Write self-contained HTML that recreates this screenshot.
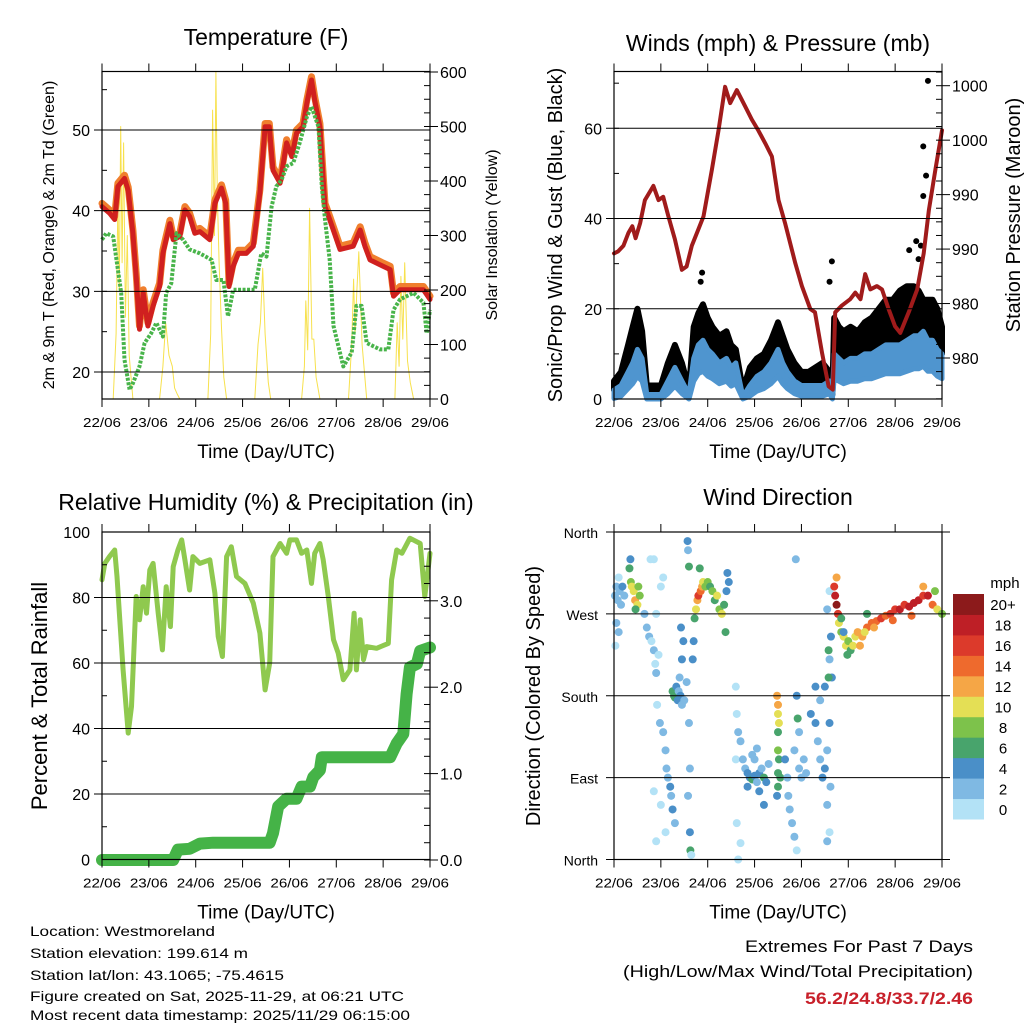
<!DOCTYPE html>
<html><head><meta charset="utf-8"><style>
html,body{margin:0;padding:0;background:#fff}
svg{display:block;font-family:"Liberation Sans",sans-serif}
</style></head><body>
<svg id="c" width="1024" height="1024" viewBox="0 0 1024 1024">
<g id="layer-bg"></g>
<g id="layer-data"></g>
<g id="layer-axes"></g>
<g font-size="14" fill="#000">
<text x="30" y="936" textLength="185" lengthAdjust="spacingAndGlyphs">Location: Westmoreland</text>
<text x="30" y="958" textLength="218" lengthAdjust="spacingAndGlyphs">Station elevation: 199.614 m</text>
<text x="30" y="980" textLength="254" lengthAdjust="spacingAndGlyphs">Station lat/lon: 43.1065; -75.4615</text>
<text x="30" y="1001" textLength="374" lengthAdjust="spacingAndGlyphs">Figure created on Sat, 2025-11-29, at 06:21 UTC</text>
<text x="30" y="1020" textLength="380" lengthAdjust="spacingAndGlyphs">Most recent data timestamp: 2025/11/29 06:15:00</text>
</g>
<g font-size="17" text-anchor="end">
<text x="973" y="952" textLength="228" lengthAdjust="spacingAndGlyphs">Extremes For Past 7 Days</text>
<text x="973" y="977" textLength="350" lengthAdjust="spacingAndGlyphs">(High/Low/Max Wind/Total Precipitation)</text>
<text x="973" y="1004" textLength="168" lengthAdjust="spacingAndGlyphs" font-weight="bold" fill="#c8202a">56.2/24.8/33.7/2.46</text>
</g>
</svg>
<script>
// ---------- data ----------
const dayLabels=["22/06","23/06","24/06","25/06","26/06","27/06","28/06","29/06"];
const tempT=[0,.16,.27,.34,.48,.56,.66,.73,.80,.88,.98,1.09,1.23,1.30,1.45,1.52,1.66,1.77,1.87,1.98,2.09,2.30,2.41,2.55,2.64,2.71,2.80,2.91,3.08,3.23,3.37,3.48,3.57,3.65,3.80,3.94,4.05,4.15,4.29,4.37,4.47,4.54,4.65,4.76,4.86,5.08,5.36,5.51,5.61,5.72,6.00,6.15,6.22,6.36,6.65,6.86,7.0];
const tempF=[40.5,39.7,38.9,43,44,42.5,37.2,31.8,25.3,29.8,25.7,28.2,30.6,34.7,38.4,36.4,36.8,40.1,39.3,37.2,37.4,36.4,40.9,42.8,40.9,30.6,33.1,34.7,34.7,35.6,42.2,50.4,50.4,45,43.4,48.4,46.7,49.6,50.4,53.3,56.2,53.7,50.4,40.5,38.9,35.2,35.6,37.6,35.6,33.9,33.1,32.7,29.4,30.2,30.2,30.2,29];
const dewT=[0,.09,.24,.31,.41,.48,.59,.66,.80,.91,1.05,1.16,1.30,1.37,1.48,1.59,1.73,1.87,2.09,2.34,2.44,2.59,2.69,2.80,3.08,3.26,3.40,3.51,3.62,3.72,3.83,3.94,4.08,4.22,4.37,4.47,4.62,4.69,4.76,4.86,4.94,5.15,5.33,5.43,5.54,5.65,5.93,6.11,6.22,6.36,6.65,6.86,6.93,7];
const dewF=[36.4,37.2,36.8,33.9,29.8,21.5,17.8,18.6,20.7,23.6,24.8,26.1,24.4,29.8,31,37.2,36.4,35.2,34.7,33.9,31.4,31.4,26.9,30.2,30.2,30.2,34.7,34.3,40.5,43,43.8,45.5,45.9,48.4,51.6,52.9,50.4,43,38.9,33.9,25.7,20.7,22.4,28.2,28.2,23.6,22.8,22.8,27.7,29,29.8,28.6,24.8,27.7];
const solarT=[0.2,0.24,0.30,0.34,0.37,0.40,0.43,0.46,0.50,0.54,0.58,0.66,1.2,1.23,1.30,1.36,1.43,1.50,1.55,1.60,1.66,2.2,2.26,2.32,2.36,2.40,2.43,2.46,2.50,2.55,2.60,2.66,3.2,3.26,3.33,3.38,3.43,3.48,3.55,3.6,4.2,4.26,4.32,4.35,4.39,4.43,4.48,4.52,4.57,4.65,5.2,5.26,5.33,5.37,5.40,5.44,5.48,5.55,5.65,6.2,6.25,6.30,6.34,6.38,6.42,6.46,6.52,6.58,6.65];
const solarW=[0,0,120,365,200,500,250,470,150,300,80,0,0,0,60,140,80,60,20,10,0,0,0,120,530,300,600,377,250,130,40,0,0,0,100,140,240,120,30,0,0,0,60,180,90,350,110,110,40,0,0,0,100,220,120,200,270,100,0,0,0,140,60,225,110,250,70,30,0];
const presT=[0,.09,.2,.31,.39,.46,.56,.66,.84,.95,1.05,1.16,1.30,1.45,1.55,1.66,1.80,1.91,2.09,2.23,2.37,2.48,2.62,2.80,2.94,3.08,3.23,3.37,3.51,3.65,3.87,4.01,4.19,4.29,4.44,4.58,4.67,4.72,4.86,5.04,5.15,5.26,5.36,5.47,5.61,5.72,5.86,6.0,6.11,6.29,6.47,6.61,6.72,6.86,6.93,7];
const presMb=[989.6,989.8,990.3,991.5,992.1,991,992.4,994.5,995.8,994.5,994.8,993,990.9,988.1,988.4,990.3,991.8,993,997.3,1000.9,1004.9,1003.4,1004.6,1003.1,1001.9,1000.9,999.7,998.5,994.5,992.4,988.7,986.6,984.5,984.2,980.5,977.4,977.1,984.2,984.8,985.4,986,985.4,987.7,986.3,986.6,986.3,984.5,982.9,982.3,984.2,986.3,989.6,993.6,997.3,999.1,1000.9];
const windT=[0,.15,.3,.4,.5,.6,.7,.85,1.0,1.15,1.3,1.45,1.6,1.7,1.8,1.9,2.0,2.1,2.25,2.4,2.5,2.6,2.75,2.9,3.05,3.2,3.35,3.5,3.6,3.7,3.85,4.0,4.15,4.3,4.45,4.6,4.66,4.7,4.8,4.9,5.05,5.2,5.35,5.5,5.65,5.8,5.95,6.1,6.25,6.4,6.5,6.6,6.7,6.8,6.9,7.0];
const windMph=[2,3,6,8,11,9,1,1,1,4,7,4,1,9,12,13,11,10,8,9,7,8,0.5,3,5,6,8,11,8,6,4,3,3,3,3,4,1,10,9,8,9,9,10,10,11,12,12,12,13,14,14,15,13,13,11,10];
const gustMph=[4,6,12,16,20,15,3,3,3,8,12,8,2,16,19,21,18,16,14,15,12,11,2,7,9,10,13,17,14,11,8,6,6,7,8,6,2,18,16,15,16,15,17,18,20,22,22,24,25,25,24,22,22,22,20,16];
const gustOutT=[6.70,6.60,6.66,6.60,4.65,4.60,6.45,6.55,1.88,1.85,6.3,6.5];
const gustOutMph=[70.5,56,49.5,45,30.5,26,35,34,28,26,33,31];
const rhT=[0,.06,.16,.27,.32,.38,.45,.56,.63,.73,.80,.88,.95,1.02,1.09,1.20,1.29,1.37,1.46,1.52,1.62,1.70,1.77,1.87,1.94,2.09,2.30,2.41,2.48,2.57,2.66,2.76,2.87,3.05,3.23,3.37,3.48,3.58,3.65,3.80,3.94,4.01,4.15,4.26,4.37,4.47,4.54,4.65,4.72,4.83,4.94,5.04,5.15,5.29,5.38,5.43,5.51,5.58,5.65,5.86,6.11,6.18,6.29,6.40,6.57,6.79,6.89,7];
const rhPct=[85.4,90.4,92.5,94.5,86.4,73.2,57.9,38.6,46.7,80.3,73.2,83.3,75.2,88.4,90.4,75.2,64,83.3,71.1,89.4,94.5,97.6,91.5,82.3,92.5,90.4,91.5,81.3,68.1,62,92.5,95.5,86.4,84.3,78.3,69.1,51.8,60,92.5,96.5,93.5,97.6,97.6,93.5,94.5,84.3,93.5,96.5,91.5,80.3,67.1,63,54.9,57.9,75.2,57.9,73.2,61,65,64.5,66,85.4,94.5,93.5,98.1,96.5,80.3,93.5];
const rainT=[0,1.52,1.62,1.87,2.09,2.37,3.58,3.65,3.76,3.94,4.15,4.26,4.44,4.51,4.65,4.69,6.15,6.29,6.43,6.50,6.57,6.72,6.79,7];
const rainIn=[0,0,.12,.13,.19,.2,.2,.31,.62,.71,.71,.85,.85,.96,1.04,1.19,1.19,1.35,1.46,1.92,2.23,2.27,2.42,2.46];
const dirT=[0.02,0.05,0.08,0.1,0.12,0.15,0.18,0.22,0.05,0.1,0.03,
0.33,0.36,0.38,0.42,0.45,0.5,0.55,0.35,0.46,0.52,
0.65,0.7,0.75,0.8,0.85,0.88,0.9,0.95,0.85,1.0,1.05,0.78,0.9,
1.25,1.28,1.3,1.33,1.36,1.38,1.42,1.4,1.45,1.5,1.45,1.48,1.43,
0.92,0.98,1.05,1.1,1.12,1.15,1.2,1.22,1.25,1.3,1.1,1.0,0.85,0.9,
1.55,1.6,1.62,1.58,1.62,1.63,1.65,1.57,1.58,1.6,
1.72,1.75,1.78,1.8,1.85,1.88,1.9,1.95,2.0,2.05,2.1,2.15,2.2,2.25,2.3,2.35,2.4,2.42,2.45,2.38,1.83,1.7,1.68,
2.62,2.65,2.7,2.6,2.62,2.7,2.65,2.6,
2.8,2.85,2.9,2.95,3.0,3.05,3.1,3.15,3.2,3.25,2.75,3.0,3.1,3.2,3.3,2.85,2.95,3.05,
3.5,3.5,3.52,3.5,3.48,3.5,3.52,3.5,3.5,3.55,3.48,
3.65,3.7,3.72,3.75,3.8,3.85,3.9,3.85,3.95,4.0,3.9,3.88,3.95,4.1,4.05,3.92,
4.2,4.3,4.35,4.4,4.45,4.5,4.55,4.6,4.62,4.55,4.6,4.55,4.65,4.6,4.58,4.63,4.55,4.6,4.5,4.4,4.3,4.58,
4.7,4.72,4.75,4.78,4.8,4.85,4.9,4.95,5.0,5.05,5.1,4.85,4.9,4.98,5.15,4.75,
5.2,5.3,5.4,5.5,5.6,5.7,5.8,5.9,6.0,6.1,6.2,6.3,6.4,6.5,6.6,6.7,6.8,6.9,7.0,5.35,5.55,5.25,6.6,6.85,5.4,5.95,6.35];
const dirDeg=[290,300,285,310,295,280,300,290,260,250,235,
320,305,300,295,285,280,290,330,275,300,
270,255,245,240,230,215,205,225,330,300,310,330,270,
185,180,178,190,175,185,180,200,170,175,220,240,255,
170,150,140,120,100,90,80,70,55,40,30,60,75,20,
195,150,100,70,30,10,5,350,340,322,
265,275,285,290,295,300,305,300,305,300,295,285,290,275,270,280,295,315,305,250,320,240,220,
160,140,130,110,40,18,0,190,
100,95,90,88,92,85,95,100,90,85,110,110,75,60,105,80,115,122,
170,160,150,140,180,120,110,95,80,90,70,
110,90,70,55,40,25,10,120,100,90,180,330,140,95,110,155,
160,150,130,110,90,100,120,150,80,60,30,20,200,220,230,245,275,295,190,175,190,200,
300,290,280,270,260,250,245,235,240,230,235,265,250,225,245,310,
250,245,255,260,262,265,268,270,275,275,280,278,282,285,290,290,280,275,270,250,255,235,300,295,270,263,268];
const dirMph=[2,3,2,1,3,2,4,2,2,2,1,
7,9,10,10,12,11,8,4,7,9,
2,2,2,1,2,1,3,1,0,0,1,0,1,
7,6,6,4,4,3,4,3,2,3,4,4,5,
1,2,2,3,3,2,4,3,4,2,1,1,0,0,
2,2,2,2,4,7,0,4,3,6,
7,10,13,16,14,12,10,8,8,7,8,7,10,9,11,6,5,4,4,6,7,5,4,
1,2,2,1,1,0,1,0,
3,4,4,6,5,3,4,3,6,5,2,3,4,4,2,5,3,3,
12,10,10,7,12,8,7,6,6,7,4,
5,3,3,2,2,2,1,2,3,2,4,2,2,2,3,7,
4,4,3,3,4,4,3,4,2,2,1,2,4,3,6,5,2,1,5,2,5,6,
16,18,20,16,10,8,10,10,8,7,10,6,4,6,10,12,
13,12,14,14,15,16,15,17,16,18,17,18,19,18,17,18,14,11,9,10,12,12,13,9,6,14,15];
const speedLabels=["0","2","4","6","8","10","12","14","16","18","20+"];
const speedColors=["#b3e2f6","#7fb9e3","#4a8fc8","#48a46c","#7dc24b","#e4df55","#f5a646","#ee6a2d","#dc3a2b","#be1f26","#8c1a1b"];

// ---------- helpers ----------
const NS="http://www.w3.org/2000/svg";
const gData=document.getElementById('layer-data');
const gAx=document.getElementById('layer-axes');
function mk(tag,attrs,parent){const e=document.createElementNS(NS,tag);for(const k in attrs)e.setAttribute(k,attrs[k]);(parent||gAx).appendChild(e);return e;}
const W=328, H=327.5;
function xs(L){return t=>L+t*(W/7);}
function lin(v0,p0,v1,p1){return v=>p0+(v-v0)*(p1-p0)/(v1-v0);}
function poly(T,V,sx,sy,attrs,name){
  const pts=T.map((t,i)=>sx(t).toFixed(1)+","+sy(V[i]).toFixed(1)).join(" ");
  const e=mk('polyline',Object.assign({points:pts,fill:'none','stroke-linejoin':'round','stroke-linecap':'round'},attrs),gData);
  
  
  return e;
}
function area(T,Lo,Hi,sx,sy,attrs,name){
  const top=T.map((t,i)=>sx(t).toFixed(1)+","+sy(Hi[i]).toFixed(1));
  const bot=T.map((t,i)=>sx(t).toFixed(1)+","+sy(Lo[i]).toFixed(1)).reverse();
  const e=mk('polygon',Object.assign({points:top.concat(bot).join(" "),'stroke-linejoin':'round'},attrs),gData);
  
  
  return e;
}
function txt(x,y,s,attrs,name,parent){
  const e=mk('text',Object.assign({x:x,y:y},attrs),parent||gAx);e.textContent=s;
  
  
  return e;
}
function panel(L,T,name,opts){
  const R=L+W,B=T+H;
  opts.grid.forEach(y=>{const g=mk('line',{x1:L-8,x2:opts.gridExt?R+8:R,y1:y,y2:y,stroke:'#000','stroke-width':1});
    
    });
  const b=mk('rect',{x:L,y:T,width:W,height:H,fill:'none',stroke:'#000','stroke-width':1.2});
  
  
  const sx=xs(L);
  for(let d=0;d<=7;d++){const x=sx(d);
    const t1=mk('line',{x1:x,x2:x,y1:T-8,y2:T,stroke:'#000','stroke-width':1});
    
    
    const t2=mk('line',{x1:x,x2:x,y1:B,y2:B+8,stroke:'#000','stroke-width':1});
    
    
    txt(x,B+28,dayLabels[d],{'font-size':13,'text-anchor':'middle',textLength:38,lengthAdjust:'spacingAndGlyphs'},name+'-x-tick-label');
  }
  txt(L+W/2,B+59,"Time (Day/UTC)",{'font-size':19,'text-anchor':'middle'},name+'-x-axis-title');
  if(opts.rminor){opts.rminor.forEach(y=>{const m=mk('line',{x1:R-6,x2:R,y1:y,y2:y,stroke:'#000','stroke-width':1});
    
    });}
  if(opts.lminor){opts.lminor.forEach(y=>{const m=mk('line',{x1:L,x2:L+5,y1:y,y2:y,stroke:'#000','stroke-width':1});
    
    });}
  return sx;
}
function range(a,b,s){const r=[];for(let v=a;v<=b+1e-9;v+=s)r.push(v);return r;}

// ---------- Temperature panel ----------
{
  const L=102,T=71.5;
  const sy=lin(20,372,50,130), ss=lin(0,399,600,72);
  const sx=panel(L,T,'temp-panel',{grid:[20,30,40,50].map(sy),rminor:range(0,600,25).map(ss),lminor:range(20,55,5).map(sy)});
  [20,30,40,50].forEach(v=>txt(L-12,sy(v)+6,String(v),{'font-size':16,'text-anchor':'end'},'temp-y-tick-label'));
  [0,100,200,300,400,500,600].forEach(v=>{txt(L+W+10,ss(v)+6,String(v),{'font-size':16},'solar-y-tick-label');
    const tk=mk('line',{x1:L+W,x2:L+W+8,y1:ss(v),y2:ss(v),stroke:'#000'});
    
    });
  poly(solarT,solarW,sx,ss,{stroke:'#f7e14d','stroke-width':1},'solar-insolation-line');
  poly(tempT,tempF.map(v=>v+0.4),sx,sy,{stroke:'#f07f2e','stroke-width':7},'temp-9m-line');
  poly(tempT,tempF,sx,sy,{stroke:'#d0201f','stroke-width':5},'temp-2m-line');
  poly(dewT,dewF,sx,sy,{stroke:'#48b44a','stroke-width':4,'stroke-dasharray':'3,1.5','stroke-linecap':'butt'},'dewpoint-line');
  txt(266,45,"Temperature (F)",{'font-size':23,'text-anchor':'middle'},'temp-title');
  txt(0,0,"2m & 9m T (Red, Orange) & 2m Td (Green)",{'font-size':16,'text-anchor':'middle',transform:'translate(54,235) rotate(-90)'},'temp-y-axis-title');
  txt(0,0,"Solar Insolation (Yellow)",{'font-size':16,'text-anchor':'middle',transform:'translate(497,235) rotate(-90)'},'solar-y-axis-title');
}
// ---------- Winds panel ----------
{
  const L=614,T=71.5;
  const sy=lin(0,399,60,128.3), sp=lin(980,358,1005,85.7);
  const sx=panel(L,T,'wind-panel',{grid:[20,40,60].map(sy),rminor:range(975,1007,1.25).map(sp).filter(y=>y>T&&y<399),lminor:range(0,70,10).map(sy)});
  [0,20,40,60].forEach(v=>txt(L-12,sy(v)+6,String(v),{'font-size':16,'text-anchor':'end'},'wind-y-tick-label'));
  const plab=["980","980","990","990","1000","1000"];
  [980,985,990,995,1000,1005].forEach((v,i)=>{txt(L+W+10,sp(v)+6,plab[i],{'font-size':16},'pressure-y-tick-label');
    const tk=mk('line',{x1:L+W,x2:L+W+8,y1:sp(v),y2:sp(v),stroke:'#000'});
    
    });
  area(windT,windMph,gustMph,sx,sy,{fill:'#000',stroke:'#000','stroke-width':6},'gust-cloud');
  area(windT,windMph.map(v=>Math.max(0,v*0.55-1)),windMph,sx,sy,{fill:'#4f95cf',stroke:'#4f95cf','stroke-width':5},'wind-speed-band');
  gustOutT.forEach((t,i)=>{const c=mk('circle',{cx:sx(t),cy:sy(gustOutMph[i]),r:3,fill:'#000'},gData);
    
    });
  poly(presT,presMb,sx,sp,{stroke:'#a01b1b','stroke-width':4},'pressure-line');
  txt(778,51,"Winds (mph) & Pressure (mb)",{'font-size':23,'text-anchor':'middle'},'wind-title');
  txt(0,0,"Sonic/Prop Wind & Gust (Blue, Black)",{'font-size':20,'text-anchor':'middle',transform:'translate(562,235) rotate(-90)'},'wind-y-axis-title');
  txt(0,0,"Station Pressure (Maroon)",{'font-size':20,'text-anchor':'middle',transform:'translate(1020,215) rotate(-90)'},'pressure-y-axis-title');
}
// ---------- RH & Precip panel ----------
{
  const L=102,T=532;
  const sy=lin(0,859.5,100,532), sr=lin(0,860,3,600.8);
  const sx=panel(L,T,'rh-panel',{grid:[20,40,60,80].map(sy),rminor:range(0,3.7,0.2).map(sr),lminor:range(10,90,10).map(sy)});
  [0,20,40,60,80,100].forEach(v=>txt(L-12,sy(v)+6,String(v),{'font-size':16,'text-anchor':'end'},'rh-y-tick-label'));
  ["0.0","1.0","2.0","3.0"].forEach((s,i)=>{txt(L+W+10,sr(i)+6,s,{'font-size':16},'rain-y-tick-label');
    const tk=mk('line',{x1:L+W,x2:L+W+8,y1:sr(i),y2:sr(i),stroke:'#000'});
    
    });
  poly(rhT,rhPct,sx,sy,{stroke:'#8fc94f','stroke-width':5},'rh-line');
  poly(rainT,rainIn,sx,sr,{stroke:'#45b347','stroke-width':12},'rain-line');
  txt(266,510,"Relative Humidity (%) & Precipitation (in)",{'font-size':23,'text-anchor':'middle'},'rh-title');
  txt(0,0,"Percent & Total Rainfall",{'font-size':22,'text-anchor':'middle',transform:'translate(47,696) rotate(-90)'},'rh-y-axis-title');
}
// ---------- Wind Direction panel ----------
{
  const L=614,T=532;
  const sy=lin(360,532,0,859.5);
  const sx=panel(L,T,'dir-panel',{grid:[360,270,180,90,0].map(sy),gridExt:true});
  ["North","West","South","East","North"].forEach((s,i)=>txt(L-16,sy(360-90*i)+6,s,{'font-size':14,'text-anchor':'end'},'dir-y-tick-label'));
  dirT.forEach((t,i)=>{const b=Math.min(10,Math.floor(dirMph[i]/2));
    const c=mk('circle',{cx:sx(t),cy:sy(dirDeg[i]),r:4,fill:speedColors[b]},gData);
    
    });
  txt(778,505,"Wind Direction",{'font-size':23,'text-anchor':'middle'},'dir-title');
  txt(0,0,"Direction (Colored By Speed)",{'font-size':20,'text-anchor':'middle',transform:'translate(540,696) rotate(-90)'},'dir-y-axis-title');
  const cbT=594, cbB=819, bh=(cbB-cbT)/11;
  speedColors.forEach((c,i)=>{const r=mk('rect',{x:953,y:cbB-(i+1)*bh,width:31,height:bh+0.5,fill:c});
    
    
    txt(1003,cbB-(i+0.5)*bh+6,speedLabels[i],{'font-size':15,'text-anchor':'middle'},'colorbar-label');});
  txt(1005,588,"mph",{'font-size':15,'text-anchor':'middle'},'colorbar-title');
}
</script>
</body></html>
